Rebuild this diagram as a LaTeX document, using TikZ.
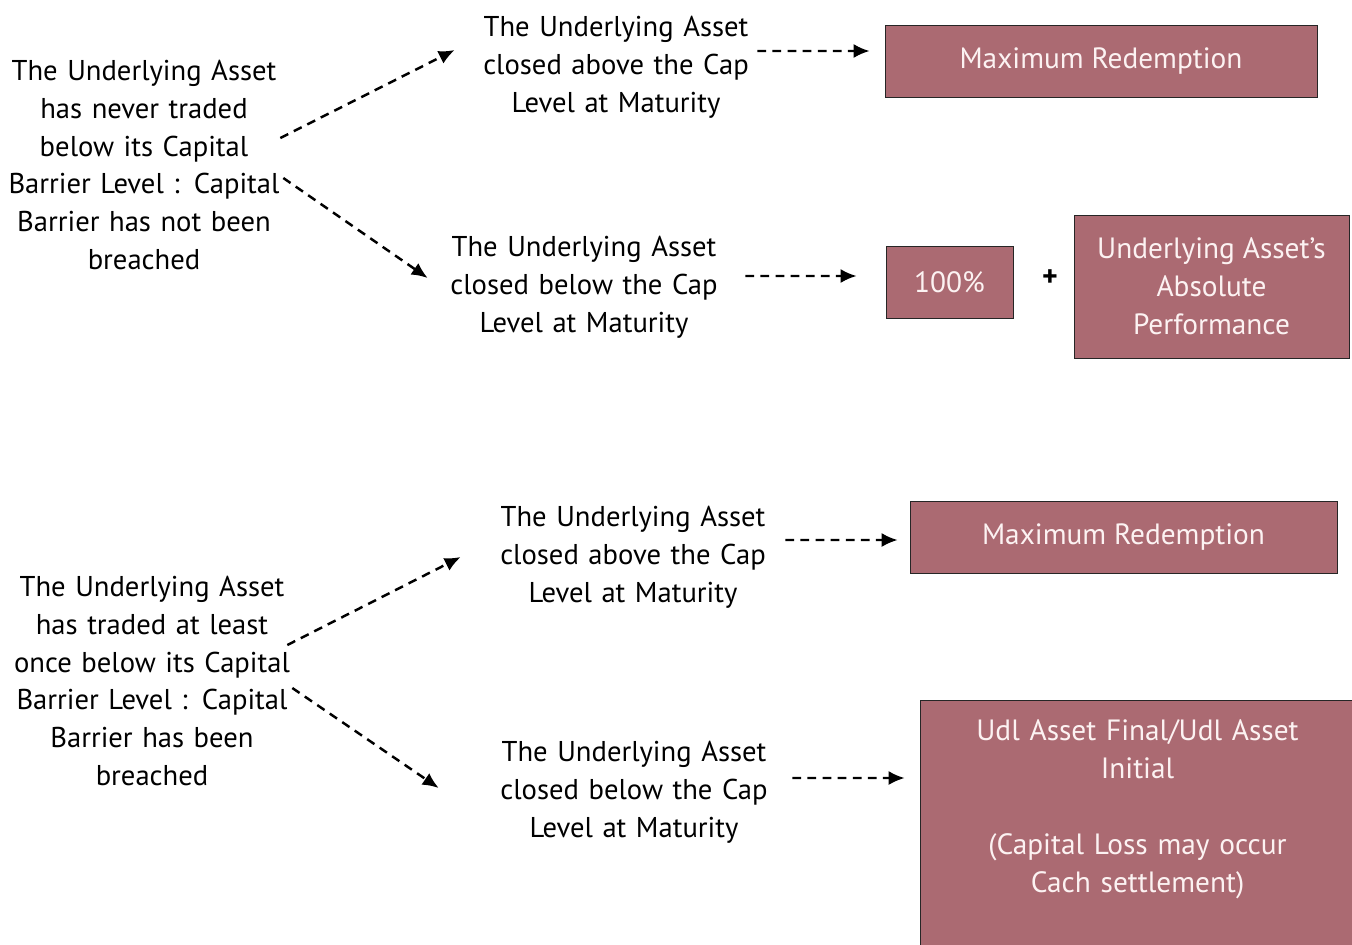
\documentclass[tikz,border=0pt]{standalone}
\usepackage{fontspec}
\setmainfont{PT Sans}
\usetikzlibrary{arrows.meta,positioning}
\definecolor{Payoff_Box}{RGB}{171,106,114}
\definecolor{Payoff_Text}{RGB}{252,242,242}

\begin{document}
\begin{tikzpicture}[x=0.02cm,y=-0.02cm,
    cond/.style={align=center, text width=6.4cm, inner sep=0pt, yshift=-0.06cm,
        font=\fontsize{16.3}{21.6}\selectfont},
    payoff/.style={draw=black!85, fill=Payoff_Box, text=Payoff_Text,
        align=center, inner sep=0pt, font=\fontsize{16.7}{21.6}\selectfont},
    flow/.style={line width=1.4pt, dash pattern=on 5pt off 3.6pt,
        -{Latex[length=0.32cm,width=0.28cm]}}]
    %% Page
    \useasboundingbox (0,0) rectangle (1352,944);

    %% Capital barrier not breached
    \node[cond] (intact) at (144,162) {The Underlying Asset\\has never traded\\below its Capital\\Barrier Level : Capital\\Barrier has not been\\breached};
    \node[cond] (aboveA) at (616,64) {The Underlying Asset\\closed above the Cap\\Level at Maturity};
    \node[cond] (belowA) at (584,284) {The Underlying Asset\\closed below the Cap\\Level at Maturity};
    \node[payoff, minimum width=8.64cm, minimum height=1.44cm] (maxA) at (1101,61) {Maximum Redemption};
    \node[payoff, minimum width=2.54cm, minimum height=1.44cm] (hundred) at (949.5,282) {100\%};
    \node[font=\fontsize{17}{20}\selectfont\bfseries] (plus) at (1050,278) {+};
    \node[payoff, minimum width=5.5cm, minimum height=2.86cm] (perf) at (1211.5,286.5) {Underlying Asset's\\Absolute\\Performance};

    \draw[flow] ([shift={(-24,-27)}]intact.east) -- ([shift={(-1,-17)}]aboveA.west);
    \draw[flow] ([shift={(-21,13)}]intact.east) -- ([shift={(4,-9)}]belowA.west);
    \draw[flow] ([shift={(-19,-16)}]aboveA.east) -- ([shift={(-15,-10)}]maxA.west);
    \draw[flow] ([shift={(1,-11)}]belowA.east) -- ([shift={(-29,-6)}]hundred.west);

    %% Capital barrier breached
    \node[cond] (broken) at (152,678) {The Underlying Asset\\has traded at least\\once below its Capital\\Barrier Level : Capital\\Barrier has been\\breached};
    \node[cond] (aboveB) at (633,554) {The Underlying Asset\\closed above the Cap\\Level at Maturity};
    \node[cond] (belowB) at (634,789) {The Underlying Asset\\closed below the Cap\\Level at Maturity};
    \node[payoff, minimum width=8.54cm, minimum height=1.44cm] (maxB) at (1123.5,537) {Maximum Redemption};
    \node[payoff, anchor=north, text width=8.7cm, inner ysep=0.38cm] (final) at (1137.5,700) {Udl Asset Final/Udl Asset\\Initial\\[21.6pt](Capital Loss may occur\\Cach settlement)\\[1.2cm]\mbox{}};

    \draw[flow] ([shift={(-25,-36)}]broken.east) -- ([shift={(-12,0)}]aboveB.west);
    \draw[flow] ([shift={(-20,7)}]broken.east) -- ([shift={(-35,-4)}]belowB.west);
    \draw[flow] ([shift={(-8,-17)}]aboveB.east) -- ([shift={(-12,3)}]maxB.west);
    \draw[flow] ([shift={(-2,-14)}]belowB.east) -- ([shift={(-15,78)}]final.north west);
\end{tikzpicture}
\end{document}
